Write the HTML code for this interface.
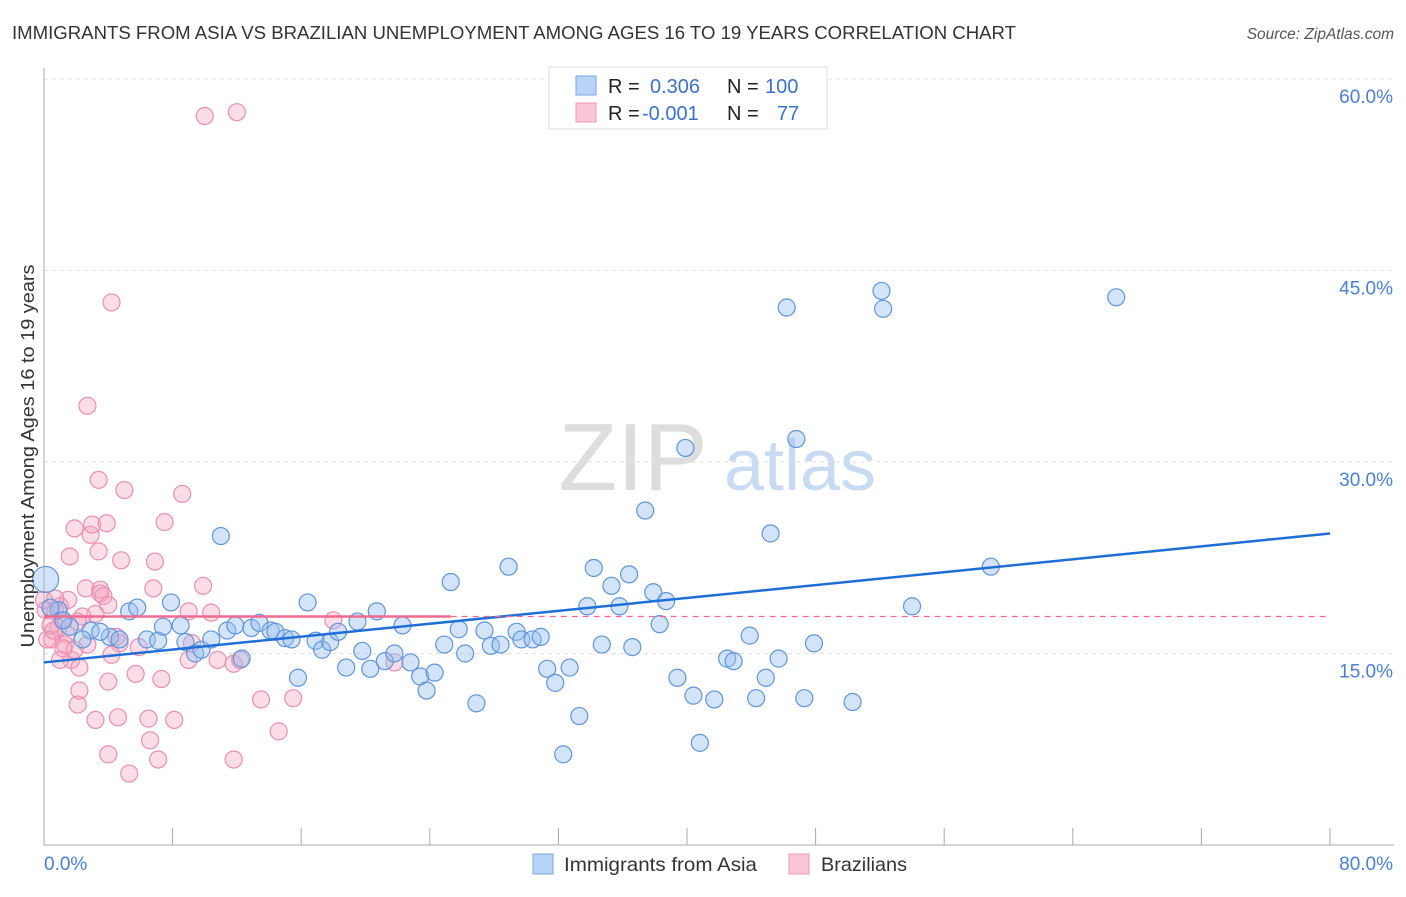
<!DOCTYPE html>
<html><head><meta charset="utf-8"><style>
body{margin:0;background:#fff;font-family:"Liberation Sans",sans-serif}
svg text{font-family:"Liberation Sans",sans-serif}
</style></head><body>
<svg width="1406" height="892" viewBox="0 0 1406 892" xmlns="http://www.w3.org/2000/svg" id="chart">
<text x="12" y="39" font-size="18" fill="#333" textLength="1004" lengthAdjust="spacingAndGlyphs">IMMIGRANTS FROM ASIA VS BRAZILIAN UNEMPLOYMENT AMONG AGES 16 TO 19 YEARS CORRELATION CHART</text>
<text x="1394" y="39" font-size="15.5" fill="#555" font-style="italic" text-anchor="end">Source: ZipAtlas.com</text>
<g>
<text x="633" y="490" font-size="96" fill="#ddd" font-family="Liberation Serif" text-anchor="middle">ZIP</text>
<text x="800" y="490" font-size="72" fill="#c9dbf2" text-anchor="middle">atlas</text>
</g>
<g id="grid"></g>
<g id="axes"></g>
<g id="pts"></g>
<g id="trend"></g>
<text transform="translate(34,456) rotate(-90)" font-size="18.5" fill="#333" text-anchor="middle" textLength="383" lengthAdjust="spacingAndGlyphs">Unemployment Among Ages 16 to 19 years</text>
<g>
<rect x="549" y="67" width="278" height="62" fill="#fff" stroke="#ddd"/>
<rect x="576" y="76" width="20" height="19" fill="#b8d3f5" stroke="#7aa7e6"/>
<rect x="576" y="103" width="20" height="19" fill="#f9c6d6" stroke="#ee9ab6"/>
<text x="608" y="93" font-size="20" fill="#222">R = </text><text x="650" y="93" font-size="20" fill="#3a72c9">0.306</text>
<text x="727" y="93" font-size="20" fill="#222">N = </text><text x="765" y="93" font-size="20" fill="#3a72c9">100</text>
<text x="608" y="120" font-size="20" fill="#222">R = </text><text x="642" y="120" font-size="20" fill="#3a72c9">-0.001</text>
<text x="727" y="120" font-size="20" fill="#222">N = </text><text x="777" y="120" font-size="20" fill="#3a72c9">77</text>
</g>
<g>
<rect x="533" y="854" width="20" height="20" fill="#b8d3f5" stroke="#7aa7e6"/>
<text x="564" y="871" font-size="19.5" fill="#333" textLength="193" lengthAdjust="spacingAndGlyphs">Immigrants from Asia</text>
<rect x="789" y="854" width="20" height="20" fill="#f9c6d6" stroke="#ee9ab6"/>
<text x="821" y="871" font-size="19.5" fill="#333" textLength="86" lengthAdjust="spacingAndGlyphs">Brazilians</text>
</g>
</svg>
<script>
const xTicks=[0,8,16,24,32,40,48,56,64,72,80];
const yTicks=[15,30,45,60];
const yTickLabels=["15.0%","30.0%","45.0%","60.0%"];
const asiaX=[0.1,0.9,1.6,2.9,4.1,5.3,5.8,6.4,7.1,7.4,7.9,8.5,8.8,9.4,9.8,10.4,11.0,11.4,11.9,12.3,12.9,13.4,14.1,14.4,15.0,15.4,15.8,16.4,16.9,17.3,17.8,18.3,18.8,19.5,19.8,20.3,20.7,21.2,21.8,22.3,22.8,23.4,23.8,24.3,24.9,25.3,25.8,26.2,26.9,27.4,27.8,28.4,28.9,29.4,29.7,30.4,30.9,31.3,31.8,32.3,32.7,33.3,33.8,34.2,34.7,35.3,35.8,36.4,36.6,37.4,37.9,38.3,38.7,39.4,39.9,40.4,40.8,41.7,42.5,42.9,43.9,44.3,44.9,45.2,45.7,46.2,46.8,47.3,47.9,50.3,52.1,52.2,54.0,58.9,66.7,0.4,1.2,2.4,3.5,4.7];
const asiaY=[20.8,18.4,17.1,16.8,16.3,18.3,18.6,16.1,16.0,17.1,19.0,17.2,15.9,15.0,15.3,16.1,24.2,16.8,17.2,14.6,17.0,17.4,16.8,16.7,16.2,16.1,13.1,19.0,16.0,15.3,15.9,16.7,13.9,17.5,15.2,13.8,18.3,14.4,15.0,17.2,14.3,13.2,12.1,13.5,15.7,20.6,16.9,15.0,11.1,16.8,15.6,15.7,21.8,16.7,16.1,16.1,16.3,13.8,12.7,7.1,13.9,10.1,18.7,21.7,15.7,20.3,18.7,21.2,15.5,26.2,19.8,17.3,19.1,13.1,31.1,11.7,8.0,11.4,14.6,14.4,16.4,11.5,13.1,24.4,14.6,42.1,31.8,11.5,15.8,11.2,43.4,42.0,18.7,21.8,42.9,18.6,17.6,16.1,16.7,16.1];
const brazX=[0.1,0.5,0.9,1.1,1.4,1.7,1.9,1.6,2.2,2.1,2.2,2.6,2.7,2.9,3.0,3.2,3.2,3.4,3.4,3.5,3.5,3.7,3.9,4.0,4.0,4.2,4.5,4.6,4.7,4.8,5.0,5.3,5.7,5.9,6.5,6.6,6.8,6.9,7.1,7.3,7.5,8.1,8.6,9.0,9.0,9.2,9.9,10.0,10.4,10.8,11.8,11.8,12.0,12.2,13.5,14.6,15.5,18.0,21.8,0.2,0.7,1.0,1.3,0.0,0.4,1.5,1.9,2.4,4.2,0.7,2.7,1.2,2.1,0.6,4.0,1.0];
const brazY=[18.4,16.1,17.0,17.6,16.5,14.5,24.8,22.6,12.1,11.0,13.9,20.1,34.4,24.3,25.1,18.1,9.8,28.6,23.0,20.0,19.7,19.5,25.2,12.8,7.1,42.5,16.3,10.0,15.8,22.3,27.8,5.6,13.4,15.5,9.9,8.2,20.1,22.2,6.7,13.0,25.3,9.8,27.5,14.5,18.3,15.8,20.3,57.1,18.2,14.5,6.7,14.2,57.4,14.5,11.4,8.9,11.5,17.6,14.3,16.1,18.3,18.7,15.7,19.2,17.2,19.2,15.3,17.9,14.9,19.3,15.7,15.4,17.5,16.8,18.8,14.5];
const asiaTrend=[14.3,24.4];
const brazTrend=17.9;
const brazSolidEnd=25.3;

const NS="http://www.w3.org/2000/svg";
const X0=44,X1=1330,Y0=845,YPER=191.5/15;
function sx(v){return X0+(X1-X0)*v/80;}
function sy(v){return Y0-v*YPER;}
function mk(tag,attrs,parent){const e=document.createElementNS(NS,tag);for(const k in attrs)e.setAttribute(k,attrs[k]);document.getElementById(parent).appendChild(e);return e;}

yTicks.forEach((t,i)=>{
  const g=mk('line',{x1:X0,x2:1394,y1:sy(t),y2:sy(t),stroke:'#e2e2e2','stroke-dasharray':'4,4'},'grid');
  
  
  const l=mk('text',{x:1393,y:sy(t)+24,'font-size':19,fill:'#4a7fd4','text-anchor':'end'},'grid');
  l.textContent=yTickLabels[i];
  
  
});
const ax=mk('line',{x1:X0,x2:X0,y1:68,y2:Y0,stroke:'#aaa'},'axes');


const bx=mk('line',{x1:X0,x2:1394,y1:Y0,y2:Y0,stroke:'#aaa'},'axes');


xTicks.forEach(t=>{
  const tk=mk('line',{x1:sx(t),x2:sx(t),y1:828,y2:Y0,stroke:'#aaa'},'axes');
  
  
});
const xl0=mk('text',{x:44,y:870,'font-size':19,fill:'#4a7fd4'},'axes');xl0.textContent='0.0%';


const xl1=mk('text',{x:1393,y:870,'font-size':19,fill:'#4a7fd4','text-anchor':'end'},'axes');xl1.textContent='80.0%';



brazX.forEach((v,i)=>{
  const c=mk('circle',{cx:sx(v),cy:sy(brazY[i]),r:8.5,fill:'rgba(244,165,192,0.38)',stroke:'#ec8fae','stroke-width':1.2},'pts');
  
  
});
asiaX.forEach((v,i)=>{
  const c=mk('circle',{cx:sx(v),cy:sy(asiaY[i]),r:i===0?13:8.5,fill:'rgba(150,190,238,0.42)',stroke:'#5f95dd','stroke-width':1.2},'pts');
  
  
});
const tl=mk('line',{x1:sx(0),y1:sy(asiaTrend[0]),x2:sx(80),y2:sy(asiaTrend[1]),stroke:'#1f6fd6','stroke-width':2.5},'trend');


const pl=mk('line',{x1:sx(0),y1:sy(brazTrend),x2:sx(brazSolidEnd),y2:sy(brazTrend),stroke:'#f06a90','stroke-width':2.5},'trend');


const pd=mk('line',{x1:sx(brazSolidEnd),y1:sy(brazTrend),x2:sx(80),y2:sy(brazTrend),stroke:'#f06a90','stroke-width':1.2,'stroke-dasharray':'6,5'},'trend');


</script>
</body></html>
